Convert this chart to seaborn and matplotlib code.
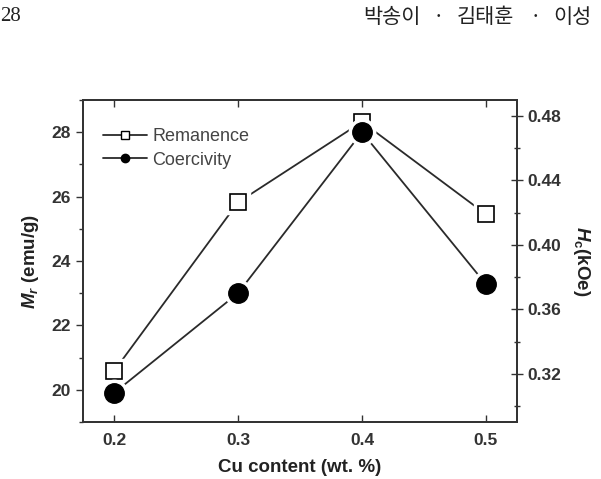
import matplotlib
matplotlib.use("Agg")
import matplotlib.pyplot as plt
import seaborn as sns
import pandas as pd
from matplotlib.ticker import MultipleLocator
from matplotlib.lines import Line2D

# Data
cu_content = [0.2, 0.3, 0.4, 0.5]
remanence = [20.58, 25.82, 28.32, 25.45]     # M_r (emu/g)
coercivity = [0.308, 0.370, 0.470, 0.3755]   # H_c (kOe)

page_number = "28"
header_parts = ["박송이", "·", "김태훈", "·", "이성"]

sns.set_theme(style="ticks")
plt.rcParams["font.family"] = ["Liberation Sans", "DejaVu Sans"]
plt.rcParams["mathtext.fontset"] = "custom"
plt.rcParams["mathtext.it"] = "Liberation Sans:italic:bold"
plt.rcParams["mathtext.rm"] = "Liberation Sans:bold"
plt.rcParams["mathtext.bf"] = "Liberation Sans:bold"

df = pd.DataFrame({"cu": cu_content, "mr": remanence, "hc": coercivity})

fig = plt.figure(figsize=(6.01, 4.79), dpi=100)
ax = fig.add_axes([83 / 601, 1 - 422 / 479, (517 - 83) / 601, (422 - 100) / 479])
ax2 = ax.twinx()

line_color = "#2a2a2a"

# Lines, then a white halo so the line stops short of each marker
sns.lineplot(data=df, x="cu", y="mr", ax=ax, color=line_color, lw=1.3, zorder=1)
ax.plot(df["cu"], df["mr"], ls="none", marker="s", ms=17, mfc="white",
        mec="white", zorder=2)
ax.plot(df["cu"], df["mr"], ls="none", marker="s", ms=12, mfc="white",
        mec="black", mew=1.2, zorder=3)

sns.lineplot(data=df, x="cu", y="hc", ax=ax2, color=line_color, lw=1.3, zorder=1)
ax2.plot(df["cu"], df["hc"], ls="none", marker="o", ms=19, mfc="white",
         mec="white", zorder=2)
ax2.plot(df["cu"], df["hc"], ls="none", marker="o", ms=14, mfc="black",
         mec="black", zorder=3)

ax.set_xlim(0.175, 0.525)
ax.set_ylim(19, 29)
ax2.set_ylim(0.29, 0.49)

ax.xaxis.set_major_locator(MultipleLocator(0.1))
ax.yaxis.set_major_locator(MultipleLocator(2))
ax.yaxis.set_minor_locator(MultipleLocator(1))
ax2.yaxis.set_major_locator(MultipleLocator(0.04))
ax2.yaxis.set_minor_locator(MultipleLocator(0.02))
ax.xaxis.set_major_formatter(plt.FuncFormatter(lambda v, p: f"{v:.1f}"))
ax2.yaxis.set_major_formatter(plt.FuncFormatter(lambda v, p: f"{v:.2f}"))

tick_color = "#333333"
ax.tick_params(axis="x", direction="in", top=True, length=5, width=1,
               labelsize=12.5, pad=8, colors=tick_color)
ax.tick_params(axis="y", which="major", direction="out", length=5, width=1,
               labelsize=12.5, colors=tick_color)
ax.tick_params(axis="y", which="minor", direction="out", length=3, width=1,
               color=tick_color)
ax2.tick_params(axis="y", which="major", direction="inout", length=8, width=1,
                labelsize=12.5, colors=tick_color)
ax2.tick_params(axis="y", which="minor", direction="inout", length=5, width=1,
                color=tick_color)
for a in (ax, ax2):
    for lab in a.get_xticklabels() + a.get_yticklabels():
        lab.set_fontweight("bold")
    for sp in a.spines.values():
        sp.set_linewidth(1.3)
        sp.set_color(tick_color)
        sp.set_visible(True)

ax.set_xlabel("Cu content (wt. %)", fontsize=13.5, fontweight="bold",
              color="#222222", labelpad=8)
ax.set_ylabel(r"$\mathit{M}_{\mathit{r}}$ (emu/g)", fontsize=13.5,
              fontweight="bold", color="#222222", labelpad=8)
ax2.set_ylabel(r"$\mathit{H}_{\mathrm{c}}$(kOe)", fontsize=13.5,
               fontweight="bold", color="#222222", rotation=270, labelpad=22)

handles = [
    Line2D([], [], color=line_color, lw=1.3, marker="s", ms=6, mfc="white",
           mec="black"),
    Line2D([], [], color=line_color, lw=1.3, marker="o", ms=6, mfc="black",
           mec="black"),
]
leg = ax.legend(handles, ["Remanence", "Coercivity"], loc="upper left",
                frameon=False, fontsize=13, handlelength=2.45,
                handletextpad=0.3, labelspacing=0.35, borderpad=0,
                borderaxespad=0, bbox_to_anchor=(0.046, 0.912))
for t in leg.get_texts():
    t.set_color("#444444")

fig.text(0.0, 0.965, page_number, fontsize=15, family=["Liberation Serif"],
         color="#222222", va="center", ha="left")

# running header, spaced out the way the page typesets it
header_x = [363, 438, 457, 535, 553]
header_ha = ["left", "center", "left", "center", "left"]
for part, px, ha in zip(header_parts, header_x, header_ha):
    fig.text(px / 601, 0.965, part, fontsize=15,
             family=["Noto Sans CJK KR", "DejaVu Sans"], color="#222222",
             va="center", ha=ha)

fig.savefig("out.png", dpi=100)
